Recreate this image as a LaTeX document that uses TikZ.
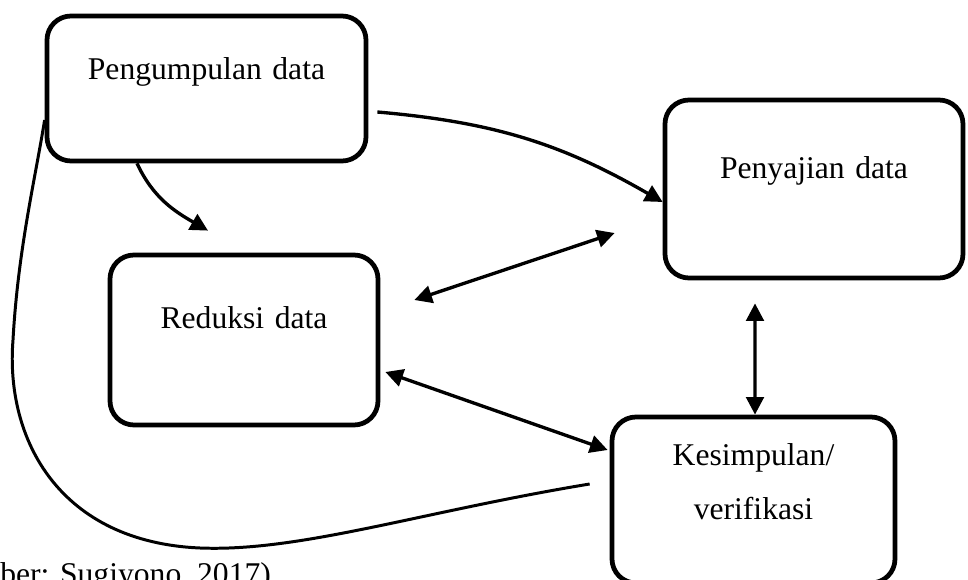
\documentclass[tikz,border=0pt]{standalone}
\usepackage{fontspec}
\setmainfont{Liberation Serif}
\usetikzlibrary{arrows.meta, positioning, calc}

\begin{document}
\begin{tikzpicture}[
    box/.style={draw, line width=2.7pt, rounded corners=0.48cm, inner sep=0,
        align=center, font=\fontsize{18}{30.6}\selectfont},
    arr/.style={line width=1.9pt, -{Triangle[length=10pt,width=10pt]}},
    dbl/.style={line width=1.9pt, {Triangle[length=10pt,width=10pt]}-{Triangle[length=10pt,width=10pt]}}]
\useasboundingbox (0,0) rectangle (19.36,11.6);
\node[box, text width=6.38cm, text height=1.28cm, text depth=1.62cm] (kump) at (4.13,9.83) {Pengumpulan data};
\node[box, text width=5.96cm, text height=1.58cm, text depth=1.98cm] (saji) at (16.28,7.82) {Penyajian data};
\node[box, text width=5.36cm, text height=1.48cm, text depth=1.92cm] (redu) at (4.88,4.8) {Reduksi data};
\node[box, text width=5.66cm, text height=0.98cm, text depth=2.34cm] (simp) at (15.07,1.6) {Kesimpulan/\\verifikasi};
\node[anchor=base west, inner sep=0, font=\fontsize{18}{22}\selectfont] (sumber) at (0,-0.1) {ber: Sugiyono, 2017)};
% free ends
\coordinate (kr) at ([xshift=-0.72cm,yshift=0.44cm]redu.north);
\coordinate (loop) at ([xshift=-0.4cm,yshift=0.32cm]simp.west);
\draw[arr] ([xshift=-1.39cm]kump.south) to[out=-65, in=150] (kr);
\draw[arr] ([xshift=0.18cm,yshift=-0.47cm]kump.east) to[out=-5, in=150] ([yshift=-0.26cm]saji.west);
\draw[dbl] ([xshift=0.68cm,yshift=0.8cm]redu.east) -- ([xshift=-0.96cm,yshift=-0.88cm]saji.west);
\draw[dbl] ([xshift=0.1cm,yshift=-0.64cm]redu.east) -- ([xshift=-0.04cm,yshift=1cm]simp.west);
\draw[dbl] ([xshift=-1.18cm,yshift=-0.46cm]saji.south) -- ([xshift=0.03cm]simp.north);
\draw[line width=1.7pt] (loop) .. controls (8.4,1.36) and (6.0,0.56) .. (4.0,0.64)
    .. controls (1.2,0.76) and (0.1,2.8) .. (0.26,4.8)
    .. controls (0.36,6.6) and (0.7,8.0) .. ([yshift=-0.63cm]kump.west);
\end{tikzpicture}
\end{document}
